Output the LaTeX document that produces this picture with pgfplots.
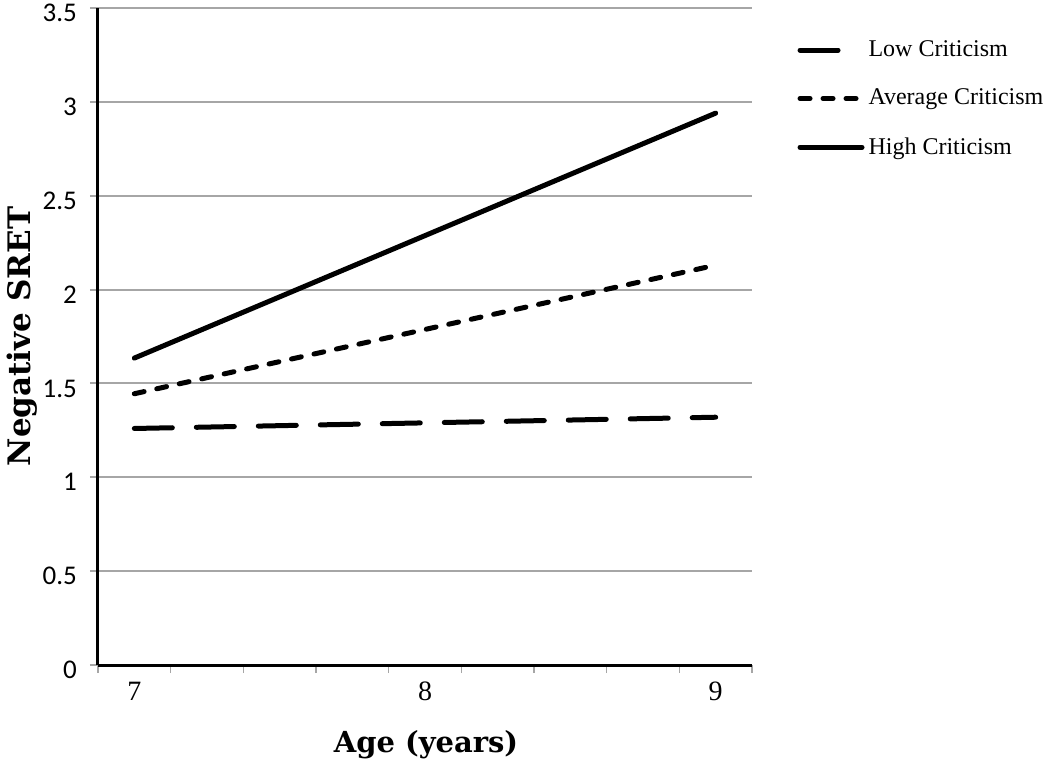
\documentclass[border=0pt]{standalone}
\usepackage{fontspec}
\setmainfont{Liberation Serif}
\newfontfamily\carlito{Carlito}
\newfontfamily\djs{DejaVu Serif}
\usepackage{pgfplots}
\pgfplotsset{compat=1.18}
\begin{document}
\begin{tikzpicture}
\useasboundingbox (-49pt,-48.5pt) rectangle (476pt,332.5pt);
\begin{axis}[
  at={(0pt,0pt)}, anchor=south west,
  scale only axis, width=327pt, height=328.5pt,
  xmin=6.875, xmax=9.125, ymin=0, ymax=3.5,
  axis x line=bottom, axis y line=left,
  axis line style={-, black, line width=1.5pt},
  xtick={7,8,9},
  minor xtick={6.875,7.125,7.375,7.625,7.875,8.125,8.375,8.625,8.875,9.125},
  ytick={0,0.5,1,1.5,2,2.5,3,3.5},
  yticklabels={0,0.5,1,1.5,2,2.5,3,3.5},
  tick align=outside,
  major tick length=4pt, minor tick length=4pt,
  xtick style={draw=none},
  minor x tick style={draw=gray!70, line width=0.8pt},
  ytick style={draw=gray!70, line width=1pt},
  ymajorgrids, grid style={gray!70, line width=1pt},
  /pgf/number format/assume math mode=true,
  xticklabel style={font=\fontsize{14}{16}\selectfont, anchor=center, text height=0pt, text depth=0pt, yshift=-13.5pt},
  yticklabel style={font=\carlito\fontsize{13.5}{15}\selectfont, anchor=east, xshift=-3pt, yshift=-2.5pt},
  xlabel={Age (years)},
  ylabel={Negative SRET},
  xlabel style={font=\djs\bfseries\fontsize{14.5}{17}\selectfont, at={(axis description cs:0.5015,-0.122)}, anchor=center},
  ylabel style={font=\djs\bfseries\fontsize{15.5}{18}\selectfont, at={(axis description cs:-0.116,0.5)}, anchor=center},
  legend style={at={(axis description cs:1.069,0.957)}, anchor=north west, draw=none, fill=none,
    font=\fontsize{12}{14}\selectfont, row sep=10.75pt, inner sep=0pt,
    /tikz/every even column/.append style={column sep=3pt}},
  legend cell align=left,
  legend image code/.code={\draw[#1] (0pt,0pt) -- (31pt,0pt);},
  clip=false,
]
\addplot[black, line width=2.5pt, line cap=round, dash pattern=on 19pt off 12pt] coordinates {(7,1.26) (9,1.32)};
\addlegendentry{Low Criticism}
\addplot[black, line width=2.5pt, line cap=round, dash pattern=on 5pt off 6.5pt] coordinates {(7,1.445) (9,2.13)};
\addlegendentry{Average Criticism}
\addplot[black, line width=2.5pt, line cap=round] coordinates {(7,1.635) (9,2.94)};
\addlegendentry{High Criticism}
\end{axis}
\end{tikzpicture}
\end{document}
